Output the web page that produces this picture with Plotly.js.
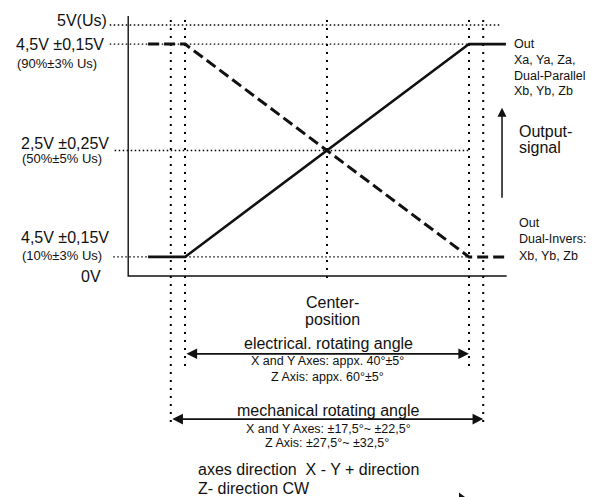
<!DOCTYPE html>
<html>
<head>
<meta charset="utf-8">
<script src="https://cdn.plot.ly/plotly-3.0.1.min.js"></script>
<style>html,body{margin:0;padding:0;background:#fff;}#chart{width:601px;height:497px;}</style>
</head>
<body>
<div id="chart"></div>
<script>
// ---- data (x: rotation angle in degrees from centre, y: output voltage in V) ----
var signalAngles   = [-25.2, -20, 20, 25.2];      // break points of the output curves
var outParallel    = [0.38, 0.38, 4.62, 4.62];    // Out Xa,Ya,Za / Dual-Parallel Xb,Yb,Zb
var outInvers      = [4.62, 4.62, 0.38, 0.38];    // Out Dual-Invers Xb,Yb,Zb
var levelValues    = [5.0, 4.62, 2.5, 0.38];      // 5V(Us), 90%, 50%, 10%
var levelStart     = [-30.6, -30.6, -29.9, -30.1];
var levelEnd       = [24.6, 20, 20, 20];
var electricalRange = [-20, 20];                  // appx. 40° total
var mechanicalRange = [-22, 22];                  // drawn mechanical limits
var centerAngle    = 0;
var axisXRange     = [-28, 25.3];
var axisYTop       = 5.18;

var levelLabels = [
  {main: "4,5V ±0,15V", sub: "(90%±3% Us)"},
  {main: "2,5V ±0,25V", sub: "(50%±5% Us)"},
  {main: "4,5V ±0,15V", sub: "(10%±3% Us)"}
];

// ---- pixel helpers for text placement (plot area == whole page) ----
var W = 601, H = 497;
function PX(px){ return px / W; }
function PY(py){ return 1 - py / H; }
var FONT = "Liberation Sans, Arial, sans-serif";
var INK = "#111";

var traces = [
  {x: signalAngles, y: outParallel, mode: "lines", line: {color: "#111", width: 2.6}, hoverinfo: "skip"},
  {x: signalAngles, y: outInvers, mode: "lines", line: {color: "#111", width: 3, dash: "11px,5px"}, hoverinfo: "skip"},
  // axes
  {x: [axisXRange[0], axisXRange[0], axisXRange[1]], y: [axisYTop, 0, 0], mode: "lines",
   line: {color: "#111", width: 1.4}, hoverinfo: "skip"}
];

var shapes = [];
var hdot = {color: "#000", width: 1.4, dash: "1.5px,2.5px"};
var vdot = {color: "#000", width: 2, dash: "2px,6px"};
for (var i = 0; i < levelValues.length; i++) {
  shapes.push({type: "line", xref: "x", yref: "y", x0: levelStart[i], x1: levelEnd[i],
               y0: levelValues[i], y1: levelValues[i], line: hdot, layer: "below"});
}
var vTop = 5.1;
[electricalRange[0], electricalRange[1]].forEach(function(v){
  shapes.push({type: "line", xref: "x", yref: "y", x0: v, x1: v, y0: vTop, y1: -1.83, line: vdot, layer: "below"});
});
[mechanicalRange[0], mechanicalRange[1]].forEach(function(v){
  shapes.push({type: "line", xref: "x", yref: "y", x0: v, x1: v, y0: vTop, y1: -3.03, line: vdot, layer: "below"});
});
shapes.push({type: "line", xref: "x", yref: "y", x0: centerAngle, x1: centerAngle, y0: vTop, y1: -0.14, line: vdot, layer: "below"});
// tiny cut-off arrow tip at the bottom edge of the picture
shapes.push({type: "path", xref: "paper", yref: "paper",
             path: "M " + PX(459) + " " + PY(492.5) + " L " + PX(465) + " " + PY(497) + " L " + PX(459) + " " + PY(497) + " Z",
             fillcolor: "#111", line: {width: 0}});

function txt(text, px, py, size, xanchor) {
  return {text: text, xref: "paper", yref: "paper", x: PX(px), y: PY(py),
          xanchor: xanchor || "left", yanchor: "middle", showarrow: false,
          font: {family: FONT, size: size, color: INK}};
}

var ann = [];
// left level labels
ann.push(txt("5V(Us)", 109, 21, 16, "right"));
ann.push(txt(levelLabels[0].main, 14, 44, 16));
ann.push(txt(levelLabels[0].sub, 15, 63, 13));
ann.push(txt(levelLabels[1].main, 19, 143, 16));
ann.push(txt(levelLabels[1].sub, 20, 158, 13));
ann.push(txt(levelLabels[2].main, 19, 237, 16));
ann.push(txt(levelLabels[2].sub, 20, 255, 13));
ann.push(txt("0V", 103, 276, 16, "right"));
// right labels
ann.push(txt("Out", 512, 44, 12.5));
ann.push(txt("Xa, Ya, Za,", 512, 60, 12.5));
ann.push(txt("Dual-Parallel", 512, 76, 12.5));
ann.push(txt("Xb, Yb, Zb", 512, 91, 12.5));
ann.push(txt("Output-", 517, 132, 16));
ann.push(txt("signal", 517, 148, 16));
ann.push(txt("Out", 517, 223, 12.5));
ann.push(txt("Dual-Invers:", 517, 239, 12.5));
ann.push(txt("Xb, Yb, Zb", 517, 256, 12.5));
// centre / angles
ann.push(txt("Center-", 332, 302, 16, "center"));
ann.push(txt("position", 332, 319, 16, "center"));
ann.push(txt("electrical. rotating angle", 328, 343, 16, "center"));
ann.push(txt("X and Y Axes: appx. 40°±5°", 327, 361, 12.5, "center"));
ann.push(txt("Z Axis: appx. 60°±5°", 327, 377, 12.5, "center"));
ann.push(txt("mechanical rotating angle", 328, 410, 16, "center"));
ann.push(txt("X and Y Axes: ±17,5°~ ±22,5°", 328, 429, 12.5, "center"));
ann.push(txt("Z Axis: ±27,5°~ ±32,5°", 327, 443, 12.5, "center"));
ann.push(txt("axes direction\u00A0 X - Y + direction", 196, 469, 16));
ann.push(txt("Z- direction CW", 196, 488, 16));

// arrows
function dblArrow(range, yv) {
  return {xref: "x", yref: "y", axref: "x", ayref: "y", x: range[1], y: yv, ax: range[0], ay: yv,
          text: "", showarrow: true, arrowside: "end+start", arrowhead: 2, arrowsize: 1.25,
          arrowwidth: 1.7, arrowcolor: "#111", standoff: 0, startstandoff: 0};
}
ann.push(dblArrow(electricalRange, -1.55));
ann.push(dblArrow(mechanicalRange, -2.85));
ann.push({xref: "x", yref: "y", axref: "x", ayref: "y", x: 24.65, y: 3.35, ax: 24.65, ay: 1.53,
          text: "", showarrow: true, arrowhead: 2, arrowsize: 1.2, arrowwidth: 1.5,
          arrowcolor: "#111", standoff: 0});

var layout = {
  width: W, height: H,
  margin: {l: 0, r: 0, t: 0, b: 0},
  paper_bgcolor: "#fff", plot_bgcolor: "#fff",
  showlegend: false,
  xaxis: {range: [(0 - 327) / 7.1, (W - 327) / 7.1], visible: false, fixedrange: true},
  yaxis: {range: [(276 - H) / 50.2, 276 / 50.2], visible: false, fixedrange: true},
  shapes: shapes,
  annotations: ann
};

Plotly.newPlot("chart", traces, layout, {staticPlot: true, displayModeBar: false});
</script>
</body>
</html>
